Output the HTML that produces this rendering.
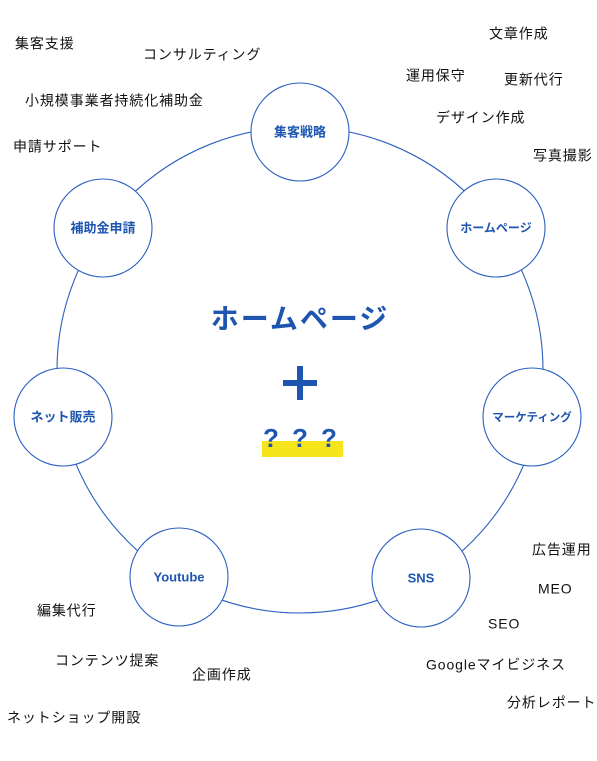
<!DOCTYPE html>
<html><head><meta charset="utf-8"><style>
html,body{margin:0;padding:0;background:#fff;}
svg{display:block;}
.l{font-family:"Liberation Sans","Noto Sans CJK JP",sans-serif;font-size:14px;fill:#111;letter-spacing:0.9px;dominant-baseline:middle;}
.n{font-family:"Liberation Sans","Noto Sans CJK JP",sans-serif;font-size:13px;font-weight:bold;fill:#1d55b0;text-anchor:middle;dominant-baseline:middle;}
.q{font-family:"Liberation Sans","Noto Sans CJK JP",sans-serif;font-size:26px;font-weight:bold;fill:#1d55b0;text-anchor:middle;dominant-baseline:middle;}
</style></head><body>
<svg width="597" height="761" viewBox="0 0 597 761">
<circle cx="300" cy="370" r="243" fill="none" stroke="#2a5fc0" stroke-width="1.1"/>
<g fill="#fff" stroke="#2a5fc0" stroke-width="1.1">
<circle cx="300" cy="132" r="49"/>
<circle cx="496" cy="228" r="49"/>
<circle cx="532" cy="417" r="49"/>
<circle cx="421" cy="578" r="49"/>
<circle cx="179" cy="577" r="49"/>
<circle cx="63" cy="417" r="49"/>
<circle cx="103" cy="228" r="49"/>
</g>
<text class="n" x="300" y="133">集客戦略</text>
<text class="n" x="496" y="229" style="font-size:12px">ホームページ</text>
<text class="n" x="532" y="418" style="font-size:11.5px">マーケティング</text>
<text class="n" x="421" y="579">SNS</text>
<text class="n" x="179" y="578">Youtube</text>
<text class="n" x="63" y="418">ネット販売</text>
<text class="n" x="103" y="229">補助金申請</text>
<text x="300" y="321" text-anchor="middle" dominant-baseline="middle" style="font-family:'Liberation Sans','Noto Sans CJK JP',sans-serif;font-size:28px;font-weight:bold;fill:#1d55b0;letter-spacing:2px">ホームページ</text>
<rect x="283" y="380" width="34" height="6" fill="#1d55b0"/>
<rect x="297" y="366" width="6" height="34" fill="#1d55b0"/>
<rect x="262" y="441" width="81" height="16" fill="#f7e51c"/>
<text class="q" x="271" y="440">?</text>
<text class="q" x="300" y="440">?</text>
<text class="q" x="329" y="440">?</text>
<text class="l" x="15" y="45">集客支援</text>
<text class="l" x="143" y="56">コンサルティング</text>
<text class="l" x="25" y="102">小規模事業者持続化補助金</text>
<text class="l" x="13" y="148">申請サポート</text>
<text class="l" x="489" y="35">文章作成</text>
<text class="l" x="406" y="77">運用保守</text>
<text class="l" x="504" y="81">更新代行</text>
<text class="l" x="436" y="119">デザイン作成</text>
<text class="l" x="533" y="157">写真撮影</text>
<text class="l" x="532" y="551">広告運用</text>
<text class="l" x="538" y="590">MEO</text>
<text class="l" x="488" y="625">SEO</text>
<text class="l" x="426" y="666">Googleマイビジネス</text>
<text class="l" x="507" y="704">分析レポート</text>
<text class="l" x="37" y="612">編集代行</text>
<text class="l" x="55" y="662">コンテンツ提案</text>
<text class="l" x="192" y="676">企画作成</text>
<text class="l" x="7" y="719">ネットショップ開設</text>
</svg>
</body></html>
